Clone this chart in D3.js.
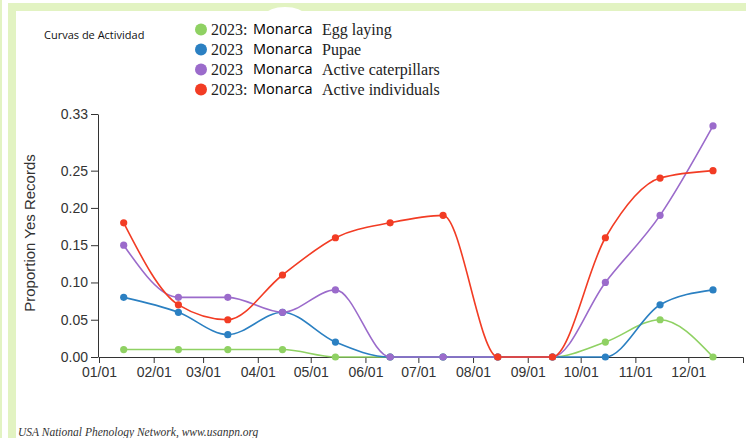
<!DOCTYPE html>
<html>
<head>
<meta charset="utf-8">
<script src="https://cdn.jsdelivr.net/npm/d3@7"></script>
<style>
  body{margin:0;background:#fff;}
  svg{display:block;}
</style>
</head>
<body>
<div id="chart"></div>
<script>
// values, one point per month (mid-month)
var months = ["Jan","Feb","Mar","Apr","May","Jun","Jul","Aug","Sep","Oct","Nov","Dec"];
var eggLaying   = [0.01, 0.01, 0.01, 0.01, 0.00, 0.00, 0.00, 0.00, 0.00, 0.02, 0.05, 0.00];
var pupae       = [0.08, 0.06, 0.03, 0.06, 0.02, 0.00, 0.00, 0.00, 0.00, 0.00, 0.07, 0.09];
var caterpillars= [0.15, 0.08, 0.08, 0.06, 0.09, 0.00, 0.00, 0.00, 0.00, 0.10, 0.19, 0.31];
var individuals = [0.18, 0.07, 0.05, 0.11, 0.16, 0.18, 0.19, 0.00, 0.00, 0.16, 0.24, 0.25];
var seriesNames = ["Egg laying", "Pupae", "Active caterpillars", "Active individuals"];
var seriesYear  = ["2023:", "2023", "2023", "2023:"];
var yTicks = [0, 0.05, 0.10, 0.15, 0.20, 0.25, 0.326];

var colors = ["#8fd163", "#2b80c2", "#9b6bcb", "#f23c24"];
var allSeries = [eggLaying, pupae, caterpillars, individuals];

var W = 746, H = 438;
var svg = d3.select("#chart").append("svg").attr("width", W).attr("height", H);

// green frame bits
var frame = "#e2f3c2";
svg.append("rect").attr("x",0).attr("y",0).attr("width",2).attr("height",H).attr("fill",frame);
svg.append("rect").attr("x",8).attr("y",3).attr("width",8).attr("height",H-3).attr("fill",frame);
svg.append("rect").attr("x",8).attr("y",3).attr("width",W-8).attr("height",8).attr("fill",frame);
svg.append("ellipse").attr("cx",285).attr("cy",15).attr("rx",19).attr("ry",8).attr("fill","#fff");

var x = d3.scaleTime()
  .domain([new Date(2023,0,1), new Date(2024,0,1)])
  .range([99, 743]);
var y = d3.scaleLinear().domain([0, 0.326]).range([357, 114]);

var xAxis = d3.axisBottom(x)
  .tickValues(d3.timeMonth.range(new Date(2023,0,1), new Date(2023,11,2)))
  .tickFormat(d3.timeFormat("%m/%d"))
  .tickSizeInner(6).tickSizeOuter(6).tickPadding(4);
var yAxis = d3.axisLeft(y)
  .tickValues(yTicks)
  .tickFormat(function(d){ return d > 0.3 ? "0.33" : d3.format(".2f")(d); })
  .tickSizeInner(7).tickSizeOuter(0).tickPadding(3);

var gx = svg.append("g").attr("transform","translate(0,357)").call(xAxis);
var gy = svg.append("g").attr("transform","translate(98,0)").call(yAxis);
[gx, gy].forEach(function(g){
  g.selectAll("path,line").attr("stroke","#333");
  g.selectAll("text").attr("fill","#333")
    .style("font-family","'Liberation Sans', Arial, sans-serif").style("font-size","14px");
});

svg.append("text")
  .attr("transform","translate(35,233) rotate(-90)")
  .attr("text-anchor","middle")
  .attr("fill","#333")
  .style("font-family","'Liberation Sans', Arial, sans-serif").style("font-size","15px")
  .text("Proportion Yes Records");

var line = d3.line()
  .x(function(d,i){ return x(new Date(2023,i,15)); })
  .y(function(d){ return y(d); })
  .curve(d3.curveMonotoneX);

allSeries.forEach(function(vals, k){
  var g = svg.append("g");
  g.append("path").attr("d", line(vals))
    .attr("fill","none").attr("stroke",colors[k]).attr("stroke-width",1.6);
  g.selectAll("circle").data(vals).enter().append("circle")
    .attr("cx",function(d,i){ return x(new Date(2023,i,15)); })
    .attr("cy",function(d){ return y(d); })
    .attr("r",3.6).attr("fill",colors[k]);
});

// legend
var leg = svg.append("g");
seriesNames.forEach(function(name, k){
  var by = 35 + k*20;
  leg.append("circle").attr("cx",201).attr("cy",by-5.5).attr("r",6).attr("fill",colors[k]);
  leg.append("text").attr("x",211).attr("y",by)
    .style("font-family","'Liberation Serif', 'Times New Roman', serif").style("font-size","16px")
    .attr("fill","#222").text(seriesYear[k]);
  leg.append("text").attr("x",253).attr("y",by-1)
    .style("font-family","'Open Sans', sans-serif").style("font-size","14.5px")
    .attr("fill","#000").text("Monarca");
  leg.append("text").attr("x",322).attr("y",by)
    .style("font-family","'Liberation Serif', 'Times New Roman', serif").style("font-size","16px")
    .attr("fill","#222").text(name);
});

svg.append("text").attr("x",44).attr("y",39)
  .style("font-family","'Open Sans', sans-serif").style("font-size","11px")
  .attr("fill","#111").text("Curvas de Actividad");

svg.append("text").attr("x",18).attr("y",436)
  .style("font-family","'Liberation Serif', 'Times New Roman', serif").style("font-size","11.5px")
  .style("font-style","italic").attr("fill","#333")
  .text("USA National Phenology Network, www.usanpn.org");
</script>
</body>
</html>
